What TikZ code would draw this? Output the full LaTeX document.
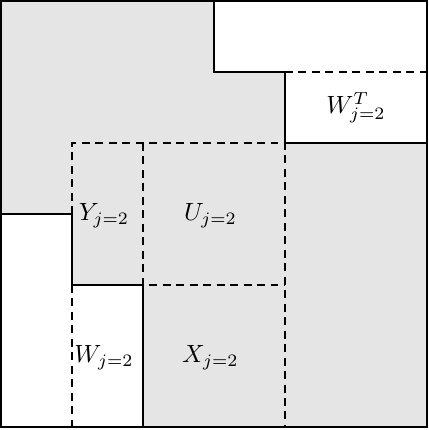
\documentclass[tikz,border=0pt]{standalone}
\usepackage{xcolor}
\usepackage{tikz}
\definecolor{blkgray}{HTML}{E5E5E5}

\begin{document}
\begin{tikzpicture}[x=1cm,y=-1cm,line width=0.8pt,
  blkdash/.style={dash pattern=on 3.2pt off 2.2pt},
  every node/.style={font=\normalsize}]
  \useasboundingbox (-0.014,-0.014) rectangle (6.028,6.042);
  % shaded part and the two white blocks
  \fill[blkgray] (0,0) rectangle (6,6);
  \fill[white] (3,0) -- (6,0) -- (6,2) -- (4,2) -- (4,1) -- (3,1) -- cycle;
  \fill[white] (0,3) -- (1,3) -- (1,4) -- (2,4) -- (2,6) -- (0,6) -- cycle;
  % dashed block borders
  \draw[blkdash] (4,1) -- (6,1);
  \draw[blkdash] (1,3) -- (1,2) -- (4,2) -- (4,6);
  \draw[blkdash] (2,2) -- (2,4) -- (4,4);
  \draw[blkdash] (1,4) -- (1,6);
  % solid staircases and frame
  \draw (3,0) -- (3,1) -- (4,1) -- (4,2) -- (6,2);
  \draw (0,3) -- (1,3) -- (1,4) -- (2,4) -- (2,6);
  \draw (0,0) rectangle (6,6);
  % labels
  \node (wt) at (5,1.5) {$W_{j=2}^T$};
  \node (y) at (1.45,3.02) {$Y_{j=2}$};
  \node (u) at (2.95,3.02) {$U_{j=2}$};
  \node (w) at (1.45,5.02) {$W_{j=2}$};
  \node (x) at (2.95,5.02) {$X_{j=2}$};
\end{tikzpicture}
\end{document}
